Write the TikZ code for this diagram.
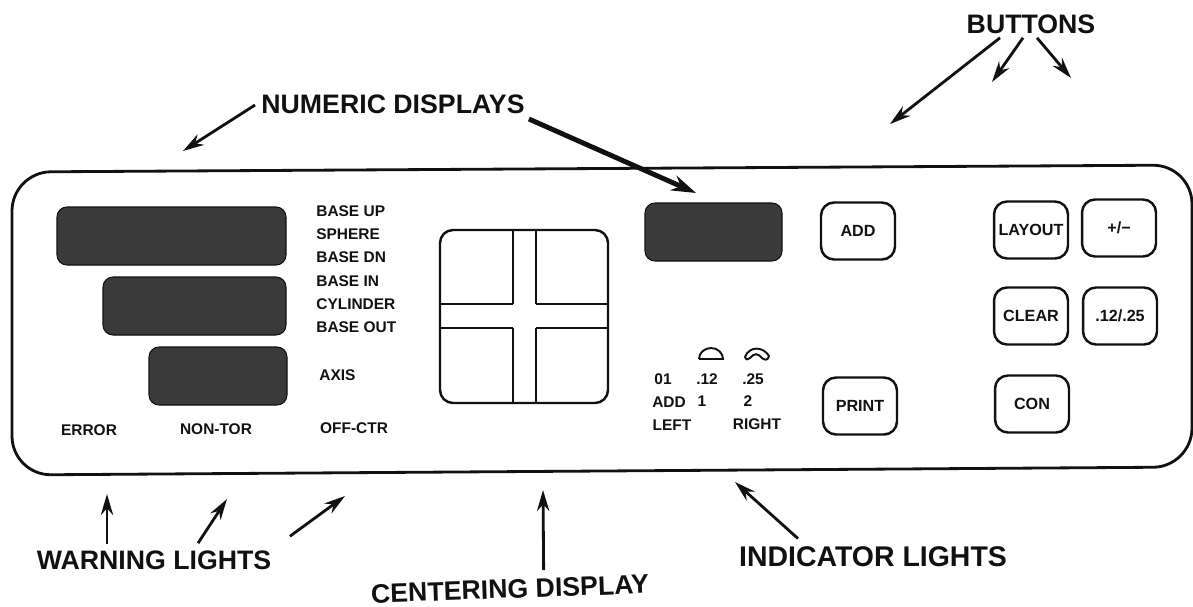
\documentclass[tikz,border=0pt]{standalone}
\usepackage{fontspec}
\setmainfont{Liberation Sans}
\usetikzlibrary{arrows.meta,calc}
\definecolor{inkblack}{HTML}{111111}
\definecolor{screengray}{HTML}{3A3A3A}
\tikzset{
  calloutlabel/.style={inner sep=0pt, text=inkblack, font=\fontsize{15.2}{16}\selectfont\bfseries},
  paneltext/.style={inner sep=0pt, text=inkblack, font=\fontsize{8.8}{10}\selectfont\bfseries},
  buttonbox/.style={draw=inkblack, line width=1.4pt, rounded corners=0.26cm, inner sep=0pt,
    minimum width=1.48cm, minimum height=1.14cm, text=inkblack, font=\fontsize{9.2}{10}\selectfont\bfseries},
  pointer/.style={draw=inkblack, line width=1.6pt, -{Stealth[length=12pt, width=7pt]}},
  heavypointer/.style={draw=inkblack, line width=2.8pt, -{Stealth[length=14pt, width=9pt]}}
}

\begin{document}
\begin{tikzpicture}[x=0.02cm, y=-0.02cm]
  \useasboundingbox (0, 0) rectangle (1193, 606);

  % Panel outline (the scan sits a little askew)
  \draw[inkblack, line width=1.6pt, rounded corners=0.78cm]
    (12, 172) -- (1192, 165) -- (1192, 467) -- (12, 475) -- cycle;

  % Numeric displays
  \foreach \xa/\ya/\xb/\yb in {57/207/286/265, 103/277/286/335, 149/347/287/405, 645/203/782/261} {
    \filldraw[fill=screengray, draw=inkblack, line width=0.6pt, rounded corners=0.2cm] (\xa, \ya) rectangle (\xb, \yb);
  }

  % Mode and warning texts
  \foreach \nm/\tx/\px/\py in {
    lblbaseup/BASE UP/316/211, lblsphere/SPHERE/316/234, lblbasedn/BASE DN/316/257,
    lblbasein/BASE IN/316/281, lblcylinder/CYLINDER/316/304, lblbaseout/BASE OUT/316/327,
    lblaxis/AXIS/319/375
  } {
    \node[paneltext, anchor=west] (\nm) at (\px, \py) {\tx};
  }
  \node[paneltext] (lblerror) at (89, 430) {ERROR};
  \node[paneltext] (lblnontor) at (216, 429) {NON-TOR};
  \node[paneltext] (lbloffctr) at (354, 428) {OFF-CTR};

  % Centering display
  \draw[inkblack, line width=1.4pt, rounded corners=0.26cm] (440, 230) rectangle (608, 403);
  \foreach \xa/\ya/\xb/\yb in {513/230/513/304, 536/230/536/304, 513/328/513/403, 536/328/536/403,
    440/304/513/304, 536/304/608/304, 440/328/513/328, 536/328/608/328} {
    \draw[inkblack, line width=1.1pt] (\xa, \ya) -- (\xb, \yb);
  }

  % Indicator lights
  \draw[inkblack, line width=1.1pt] (699, 359) -- (723, 359) arc (0:-180:12 and 11);
  \draw[inkblack, line width=1.1pt] (745, 357) .. controls (749, 346) and (763, 346) .. (769, 356)
    .. controls (768, 361) and (764, 360) .. (762, 358) .. controls (758, 353) and (754, 353) .. (750, 358)
    .. controls (748, 360) and (746, 360) .. (745, 357) -- cycle;
  \foreach \nm/\tx/\px/\py in {
    lblzero/01/663/379, lbltwelve/.12/707/379, lblquarter/.25/753/379,
    lbladd/ADD/669/402, lblone/1/702/401, lbltwo/2/748/401,
    lblleft/LEFT/672/425, lblright/RIGHT/757/424
  } {
    \node[paneltext] (\nm) at (\px, \py) {\tx};
  }

  % Buttons
  \foreach \nm/\tx/\px/\py in {
    btnadd/ADD/858/231, btnprint/PRINT/860/406, btnlayout/LAYOUT/1031/230, btnsign/{+/−}/1119/228,
    btnclear/CLEAR/1031/316, btnstep/{.12/.25}/1120/316, btncon/CON/1032/404
  } {
    \node[buttonbox] (\nm) at (\px, \py) {\tx};
  }

  % Callout labels
  \node[calloutlabel] (lblbuttons) at (1031, 24) {BUTTONS};
  \node[calloutlabel] (lblnumeric) at (393, 104) {NUMERIC DISPLAYS};
  \node[calloutlabel] (lblwarning) at (154, 560) {WARNING LIGHTS};
  \node[calloutlabel, rotate=2] (lblcentering) at (510, 589) {CENTERING DISPLAY};
  \node[calloutlabel, font=\fontsize{16.2}{17}\selectfont\bfseries] (lblindicator) at (873, 557) {INDICATOR LIGHTS};

  % Arrow tips
  \coordinate (tipbuttonsa) at (890, 124);
  \coordinate (tipbuttonsb) at (992, 82);
  \coordinate (tipbuttonsc) at (1071, 78);
  \coordinate (tipnumerica) at (183, 151);
  \coordinate (tipnumericb) at (696, 193);
  \coordinate (tipwarninga) at (107, 494);
  \coordinate (tipwarningb) at (227, 499);
  \coordinate (tipwarningc) at (345, 496);
  \coordinate (tipcentering) at (543, 490);
  \coordinate (tipindicator) at (735, 482);

  % Arrows
  \draw[pointer] ($(lblbuttons.south)+(-31, 4)$) -- (tipbuttonsa);
  \draw[pointer] ($(lblbuttons.south)+(-8, 4)$) -- (tipbuttonsb);
  \draw[pointer] ($(lblbuttons.south)+(6, 4)$) -- (tipbuttonsc);
  \draw[pointer] ($(lblnumeric.west)+(-6, 1)$) -- (tipnumerica);
  \draw[heavypointer] ($(lblnumeric.east)+(4, 15)$) -- (tipnumericb);
  \draw[pointer] ($(lblwarning.north)+(-47, -6)$) -- (tipwarninga);
  \draw[pointer] ($(lblwarning.north)+(44, -7)$) -- (tipwarningb);
  \draw[pointer] ($(lblwarning.north)+(136, -14)$) -- (tipwarningc);
  \draw[pointer] ($(lblcentering.north)+(34, -9)$) -- (tipcentering);
  \draw[pointer] ($(lblindicator.north)+(-75, -8)$) -- (tipindicator);
\end{tikzpicture}
\end{document}
